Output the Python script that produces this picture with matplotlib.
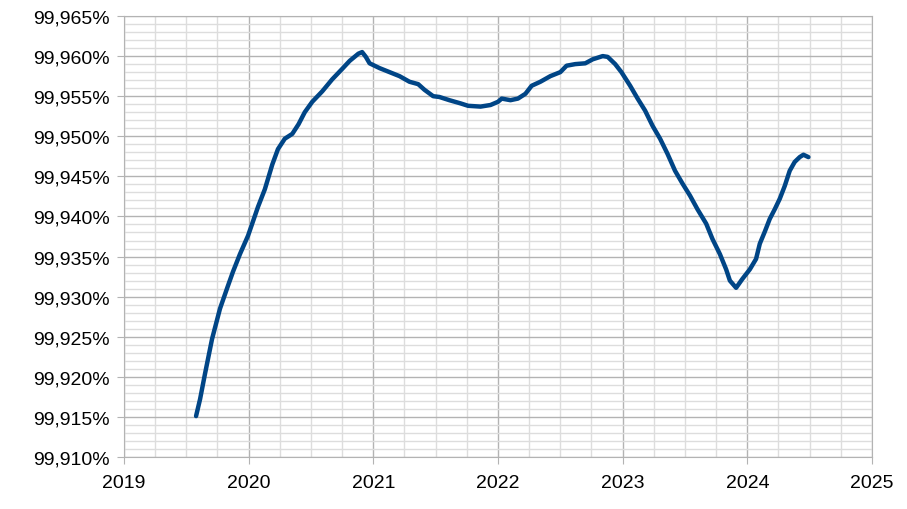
import numpy as np
import matplotlib
matplotlib.use("Agg")
import matplotlib.pyplot as plt
from matplotlib.ticker import MultipleLocator, FuncFormatter

plt.rcParams['font.family'] = ['Liberation Sans', 'DejaVu Sans']

# data (decimal year, percent)
years = [2019.578, 2019.61, 2019.65, 2019.706, 2019.77, 2019.826, 2019.874, 2019.93,
         2019.995, 2020.075, 2020.13, 2020.19, 2020.235, 2020.29, 2020.35, 2020.40,
         2020.45, 2020.51, 2020.59, 2020.67, 2020.75, 2020.81, 2020.88, 2020.91,
         2020.94, 2020.97, 2021.05, 2021.13, 2021.21, 2021.29, 2021.36, 2021.41,
         2021.48, 2021.53, 2021.61, 2021.70, 2021.76, 2021.86, 2021.94, 2022.0,
         2022.03, 2022.10, 2022.16, 2022.22, 2022.27, 2022.34, 2022.42, 2022.50,
         2022.55, 2022.62, 2022.70, 2022.76, 2022.84, 2022.88, 2022.94, 2022.99,
         2023.06, 2023.12, 2023.18, 2023.24, 2023.30, 2023.36, 2023.42, 2023.48,
         2023.54, 2023.60, 2023.67, 2023.72, 2023.78, 2023.83, 2023.86, 2023.91,
         2023.96, 2024.02, 2024.07, 2024.10, 2024.14, 2024.18, 2024.22, 2024.26,
         2024.30, 2024.34, 2024.38, 2024.42, 2024.45, 2024.49]
values = [99.9151, 99.9172, 99.9204, 99.9247, 99.9285, 99.9310, 99.9331, 99.9353,
          99.9376, 99.9412, 99.9434, 99.9465, 99.9484, 99.9497, 99.9503, 99.9515,
          99.9530, 99.9543, 99.9556, 99.9571, 99.9584, 99.9594, 99.9603, 99.9605,
          99.9599, 99.9591, 99.9585, 99.9580, 99.9575, 99.9568, 99.9565, 99.9558,
          99.9550, 99.9549, 99.9545, 99.9541, 99.9538, 99.9537, 99.9539, 99.9543,
          99.9547, 99.9545, 99.9547, 99.9553, 99.9563, 99.9568, 99.9575, 99.9580,
          99.9588, 99.9590, 99.9591, 99.9596, 99.9600, 99.9599, 99.9590, 99.9580,
          99.9563, 99.9547, 99.9532, 99.9513, 99.9497, 99.9478, 99.9457, 99.9441,
          99.9426, 99.9409, 99.9391, 99.9372, 99.9353, 99.9334, 99.9320, 99.9311,
          99.9322, 99.9334, 99.9347, 99.9366, 99.9381, 99.9397, 99.9409, 99.9422,
          99.9438, 99.9457, 99.9468, 99.9474, 99.9477, 99.9474]

fig = plt.figure(figsize=(9.07, 5.10), dpi=100)
ax = fig.add_axes([124/907, 52/510, 748/907, 441/510])

ax.plot(years, values, color='#004586', linewidth=3.2, solid_capstyle='round',
        solid_joinstyle='round', zorder=3)

ax.set_xlim(2019, 2025)
ax.set_ylim(99.910, 99.965)
ax.xaxis.set_major_locator(MultipleLocator(1))
ax.xaxis.set_minor_locator(MultipleLocator(0.25))
ax.yaxis.set_major_locator(MultipleLocator(0.005))
ax.yaxis.set_minor_locator(MultipleLocator(0.001))
ax.xaxis.set_major_formatter(FuncFormatter(lambda v, p: '%d' % round(v)))
ax.yaxis.set_major_formatter(FuncFormatter(lambda v, p: ('%.3f%%' % v).replace('.', ',')))

ax.grid(which='major', color='#b3b3b3', linewidth=1)
ax.grid(which='minor', color='#dddddd', linewidth=1)
ax.set_axisbelow(True)

for s in ax.spines.values():
    s.set_color('#b3b3b3')
ax.tick_params(which='major', length=5, color='#b3b3b3', labelsize=14,
               labelcolor='black')
ax.tick_params(which='minor', length=0)
ax.tick_params(axis='x', pad=7)
ax.tick_params(axis='y', pad=5)

fig.savefig('out.png', dpi=100)
